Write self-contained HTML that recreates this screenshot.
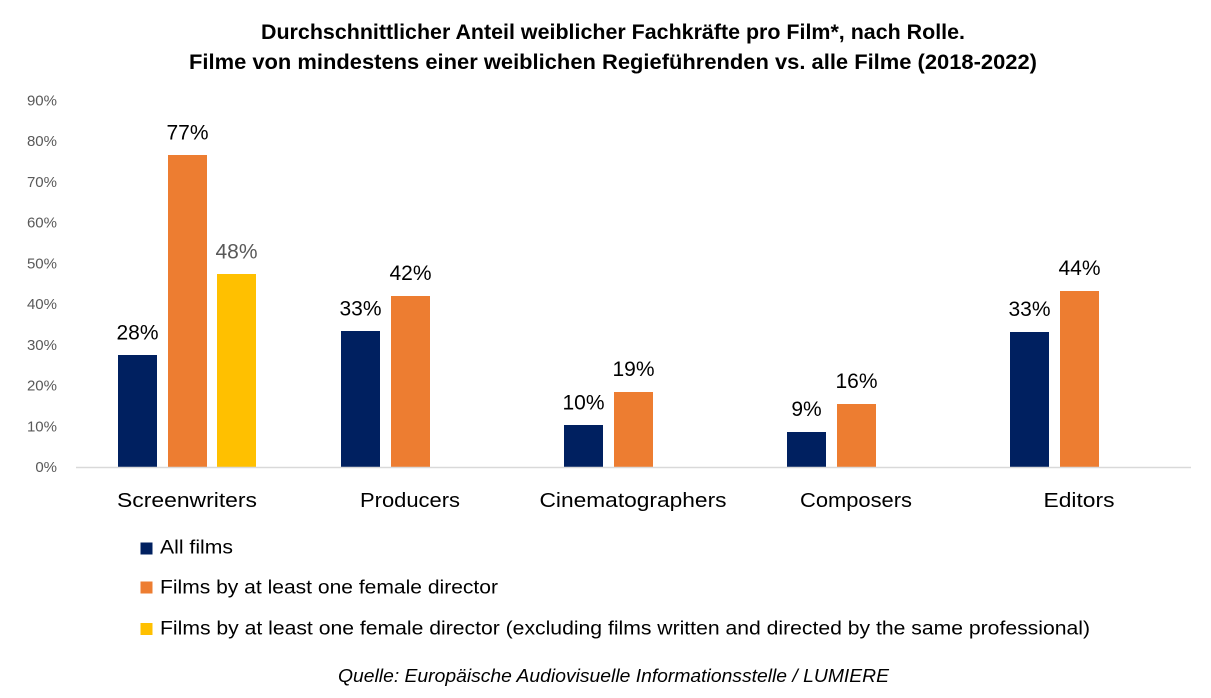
<!DOCTYPE html>
<html><head><meta charset="utf-8"><style>
html,body{margin:0;padding:0;background:#fff;}
svg{display:block;font-family:"Liberation Sans",sans-serif;}
</style></head><body>
<svg width="1211" height="698" viewBox="0 0 1211 698" xmlns="http://www.w3.org/2000/svg">
<rect width="1211" height="698" fill="#fff"/>
<!-- Title -->
<text x="261" y="39" font-size="21.5" font-weight="bold" fill="#000" textLength="704" lengthAdjust="spacingAndGlyphs">Durchschnittlicher Anteil weiblicher Fachkräfte pro Film*, nach Rolle.</text>
<text x="189" y="69" font-size="21.5" font-weight="bold" fill="#000" textLength="848" lengthAdjust="spacingAndGlyphs">Filme von mindestens einer weiblichen Regieführenden vs. alle Filme (2018-2022)</text>
<!-- Y ticks -->
<g font-size="15" fill="#595959" text-anchor="end">
<text x="57" y="472">0%</text>
<text x="57" y="431.5">10%</text>
<text x="57" y="390.5">20%</text>
<text x="57" y="350">30%</text>
<text x="57" y="309">40%</text>
<text x="57" y="268.5">50%</text>
<text x="57" y="227.5">60%</text>
<text x="57" y="187">70%</text>
<text x="57" y="146">80%</text>
<text x="57" y="105.5">90%</text>
</g>
<!-- Bars -->
<g>
<rect x="118" y="355" width="39" height="112" fill="#002060"/>
<rect x="168" y="155" width="39" height="312" fill="#ED7D31"/>
<rect x="217" y="274" width="39" height="193" fill="#FFC000"/>
<rect x="341" y="331" width="39" height="136" fill="#002060"/>
<rect x="391" y="296" width="39" height="171" fill="#ED7D31"/>
<rect x="564" y="425" width="39" height="42" fill="#002060"/>
<rect x="614" y="392" width="39" height="75" fill="#ED7D31"/>
<rect x="787" y="432" width="39" height="35" fill="#002060"/>
<rect x="837" y="404" width="39" height="63" fill="#ED7D31"/>
<rect x="1010" y="332" width="39" height="135" fill="#002060"/>
<rect x="1060" y="291" width="39" height="176" fill="#ED7D31"/>
</g>
<line x1="76" y1="467.5" x2="1191" y2="467.5" stroke="#D9D9D9" stroke-width="1.5"/>
<!-- Data labels -->
<g font-size="21" fill="#000" text-anchor="middle">
<text x="137.5" y="339.5">28%</text>
<text x="187.5" y="139.5">77%</text>
<text x="236.5" y="258.5" fill="#595959">48%</text>
<text x="360.5" y="315.5">33%</text>
<text x="410.5" y="280">42%</text>
<text x="583.5" y="409.5">10%</text>
<text x="633.5" y="376">19%</text>
<text x="806.5" y="416">9%</text>
<text x="856.5" y="388">16%</text>
<text x="1029.5" y="316">33%</text>
<text x="1079.5" y="275">44%</text>
</g>
<!-- Category labels -->
<g font-size="20" fill="#000" text-anchor="middle">
<text x="187" y="507" textLength="140" lengthAdjust="spacingAndGlyphs">Screenwriters</text>
<text x="410" y="507" textLength="100" lengthAdjust="spacingAndGlyphs">Producers</text>
<text x="633" y="507" textLength="187" lengthAdjust="spacingAndGlyphs">Cinematographers</text>
<text x="856" y="507" textLength="112" lengthAdjust="spacingAndGlyphs">Composers</text>
<text x="1079" y="507" textLength="71" lengthAdjust="spacingAndGlyphs">Editors</text>
</g>
<!-- Legend -->
<rect x="140.5" y="542.5" width="12" height="12" fill="#002060"/>
<rect x="140.5" y="581.5" width="12" height="12" fill="#ED7D31"/>
<rect x="140.5" y="623" width="12" height="12" fill="#FFC000"/>
<g font-size="19" fill="#000">
<text x="160" y="553.5" textLength="73" lengthAdjust="spacingAndGlyphs">All films</text>
<text x="160" y="593.5" textLength="338" lengthAdjust="spacingAndGlyphs">Films by at least one female director</text>
<text x="160" y="634.5" textLength="930" lengthAdjust="spacingAndGlyphs">Films by at least one female director (excluding films written and directed by the same professional)</text>
</g>
<!-- Source -->
<text x="338" y="682" font-size="18.5" font-style="italic" fill="#000" textLength="551" lengthAdjust="spacingAndGlyphs">Quelle: Europäische Audiovisuelle Informationsstelle / LUMIERE</text>
</svg>
</body></html>
